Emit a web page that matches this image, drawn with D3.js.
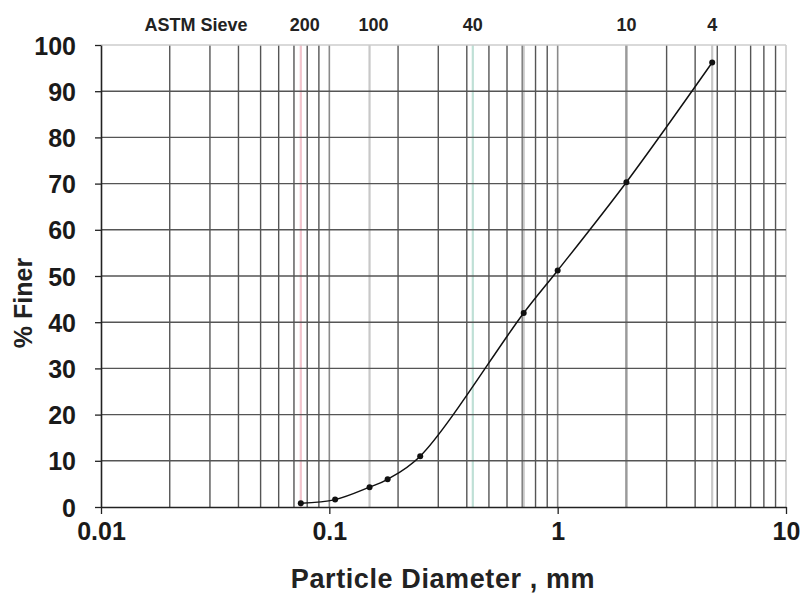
<!DOCTYPE html>
<html>
<head>
<meta charset="utf-8">
<script src="https://cdn.jsdelivr.net/npm/d3@7"></script>
<style>
  html, body { margin: 0; padding: 0; background: #fff; }
  svg { display: block; font-family: "Liberation Sans", Arial, sans-serif; }
</style>
</head>
<body>
<svg id="chart" width="803" height="599"></svg>
<script>
// ---- data ----
const diameters = [0.075, 0.106, 0.15, 0.18, 0.25, 0.71, 1.0, 2.0, 4.75];
const percentFiner = [0.8, 1.6, 4.3, 6.0, 11.0, 42.0, 51.2, 70.3, 96.2];
const sieveSizes = [0.075, 0.15, 0.425, 0.71, 2.0, 4.75];
const sieveLabels = ["200", "100", "40", "", "10", "4"];
const sieveColors = ["#f2c4cc", "#c8c8c8", "#bfe0d6", "#c8c8c8", "#9a9a9a", "#c8c8c8"];
const xTicks = [0.01, 0.1, 1, 10];
const xTickLabels = ["0.01", "0.1", "1", "10"];
const yTicks = [0, 10, 20, 30, 40, 50, 60, 70, 80, 90, 100];
const xMinorMultipliers = [2, 3, 4, 5, 6, 7, 8, 9];
const decadeStarts = [0.01, 0.1, 1];

const svg = d3.select("#chart");
const x = d3.scaleLog().domain([0.01, 10]).range([101, 786]);
const y = d3.scaleLinear().domain([0, 100]).range([507, 45]);

const grid = svg.append("g");
// minor vertical grid lines
const minor = [];
decadeStarts.forEach(d => xMinorMultipliers.forEach(m => minor.push(d * m)));
grid.selectAll("line.minor").data(minor).enter().append("line")
  .attr("x1", d => x(d)).attr("x2", d => x(d))
  .attr("y1", y(100)).attr("y2", y(0))
  .attr("stroke", "#555").attr("stroke-width", 1.4);
// decade lines
grid.selectAll("line.dec").data([0.1, 1]).enter().append("line")
  .attr("x1", d => x(d)).attr("x2", d => x(d))
  .attr("y1", y(100)).attr("y2", y(0))
  .attr("stroke", "#8a8a8a").attr("stroke-width", 1.6);
// right border
grid.append("line")
  .attr("x1", x(10)).attr("x2", x(10)).attr("y1", y(100)).attr("y2", y(0))
  .attr("stroke", "#c8c8c8").attr("stroke-width", 1.5);
// sieve lines
grid.selectAll("line.sieve").data(sieveSizes).enter().append("line")
  .attr("x1", d => x(d)).attr("x2", d => x(d))
  .attr("y1", y(100)).attr("y2", y(0))
  .attr("stroke", (d, i) => sieveColors[i]).attr("stroke-width", 2.2);
// horizontal grid lines
grid.selectAll("line.h").data(yTicks.filter(v => v > 0)).enter().append("line")
  .attr("x1", x(0.01)).attr("x2", x(10))
  .attr("y1", d => y(d)).attr("y2", d => y(d))
  .attr("stroke", d => d === 100 ? "#cccccc" : "#555").attr("stroke-width", 1.4);

// axes
const yAxis = d3.axisLeft(y).tickValues(yTicks).tickSize(6).tickSizeOuter(0).tickPadding(19);
const gy = svg.append("g").attr("transform", `translate(${x(0.01)},0)`).call(yAxis);
gy.select(".domain").attr("stroke", "#222").attr("stroke-width", 1.6);
gy.selectAll(".tick line").attr("stroke", "#222").attr("stroke-width", 1.3);
gy.selectAll(".tick text").attr("font-size", 25).attr("font-weight", "bold").attr("fill", "#1a1a1a")
  .attr("font-family", "Liberation Sans, Arial, sans-serif").attr("dy", "0.36em");

const xAxis = d3.axisBottom(x).tickValues(xTicks).tickFormat((d, i) => xTickLabels[i]).tickSize(7).tickSizeOuter(0).tickPadding(8);
const gx = svg.append("g").attr("transform", `translate(0,${y(0)})`).call(xAxis);
gx.select(".domain").attr("stroke", "#222").attr("stroke-width", 1.6);
gx.selectAll(".tick line").attr("stroke", "#222").attr("stroke-width", 1.3);
gx.selectAll(".tick text").attr("font-size", 25).attr("font-weight", "bold").attr("fill", "#1a1a1a")
  .attr("font-family", "Liberation Sans, Arial, sans-serif");

// data curve
const pts = diameters.map((d, i) => [d, percentFiner[i]]);
const line = d3.line().x(d => x(d[0])).y(d => y(d[1])).curve(d3.curveCatmullRom.alpha(0.5));
svg.append("path").datum(pts).attr("d", line)
  .attr("fill", "none").attr("stroke", "#111").attr("stroke-width", 1.5);
svg.selectAll("circle.pt").data(pts).enter().append("circle")
  .attr("cx", d => x(d[0])).attr("cy", d => y(d[1])).attr("r", 3)
  .attr("fill", "#111");

// sieve labels
svg.append("text").attr("x", 196).attr("y", 31).attr("text-anchor", "middle")
  .attr("font-size", 18).attr("font-weight", "bold").attr("fill", "#222").text("ASTM Sieve");
const labelled = sieveSizes.map((d, i) => ({ d, label: sieveLabels[i] })).filter(o => o.label !== "");
svg.selectAll("text.sl").data(labelled).enter().append("text")
  .attr("x", o => x(o.d) + (o.d < 0.2 ? 4 : 0)).attr("y", 31).attr("text-anchor", "middle")
  .attr("font-size", 18).attr("font-weight", "bold").attr("fill", "#222")
  .text(o => o.label);

// axis titles
svg.append("text").attr("x", 443).attr("y", 588).attr("text-anchor", "middle")
  .attr("font-size", 27).attr("font-weight", "bold").attr("fill", "#222")
  .attr("letter-spacing", 0.6)
  .text("Particle Diameter , mm");
svg.append("text").attr("transform", "translate(32,303) rotate(-90)").attr("text-anchor", "middle")
  .attr("font-size", 25).attr("font-weight", "bold").attr("fill", "#222")
  .text("% Finer");
</script>
</body>
</html>
